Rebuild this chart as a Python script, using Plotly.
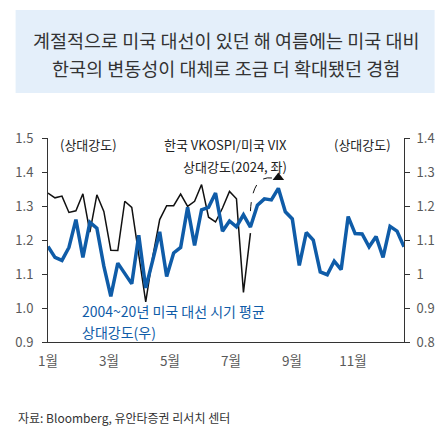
import plotly.graph_objects as go

# ---- data (weekly, week index 0..51) ----
kor_us_2024 = [1.338, 1.324, 1.329, 1.281, 1.286, 1.336, 1.223, 1.333, 1.284, 1.170,
               1.169, 1.314, 1.296, 1.157, 1.018, 1.150, 1.260, 1.301, 1.301, 1.335,
               1.299, 1.314, 1.363, 1.267, 1.253, 1.294, 1.343, 1.321, 1.046, 1.220]
election_avg = [1.081, 1.049, 1.040, 1.078, 1.160, 1.049, 1.152, 1.135, 1.023, 0.934,
                1.032, 1.003, 0.971, 1.114, 0.959, 1.040, 1.124, 0.993, 1.062, 1.078,
                1.196, 1.084, 1.189, 1.196, 1.238, 1.126, 1.156, 1.139, 1.174, 1.138,
                1.202, 1.221, 1.218, 1.252, 1.183, 1.162, 1.025, 1.122, 1.100, 1.006,
                0.998, 1.038, 1.013, 1.169, 1.119, 1.118, 1.080, 1.110, 1.049, 1.140,
                1.126, 1.080]
month_labels = ["1월", "3월", "5월", "7월", "9월", "11월"]
month_numbers = [1, 3, 5, 7, 9, 11]
left_ticks = [0.9, 1.0, 1.1, 1.2, 1.3, 1.4, 1.5]
left_ticktext = ["0.9", "1.0", "1.1", "1.2", "1.3", "1.4", "1.5"]
right_ticks = [0.8, 0.9, 1.0, 1.1, 1.2, 1.3, 1.4]
right_ticktext = ["0.8", "0.9", "1", "1.1", "1.2", "1.3", "1.4"]

weeks_per_month = 52 / 11.9
x_black = list(range(len(kor_us_2024)))
x_blue = list(range(len(election_avg)))
tickvals = [(m - 1) * weeks_per_month for m in month_numbers]

BLUE = "#0F5CA8"
GRAY = "#595959"
FONT = "Noto Sans CJK KR"

fig = go.Figure()
fig.add_trace(go.Scatter(x=x_black, y=kor_us_2024, mode="lines",
                         line=dict(color="#111111", width=1.5), yaxis="y",
                         showlegend=False))
fig.add_trace(go.Scatter(x=x_blue, y=election_avg, mode="lines",
                         line=dict(color=BLUE, width=3.5), yaxis="y2",
                         showlegend=False))

# curved dashed arrow from end of 2024 line to the summer peak of the average
peak_i = max(range(len(election_avg)), key=lambda i: election_avg[i])
x0, y0 = x_black[-1], kor_us_2024[-1] + 0.065
x1, y1 = peak_i, election_avg[peak_i] + 0.1 + 0.028
fig.add_shape(type="path",
              path=f"M {x0},{y0} Q {x0 + 0.3},{y1 + 0.02} {x1 - 0.4},{y1}",
              xref="x", yref="y", line=dict(color="#111111", width=1, dash="dash"))
fig.add_trace(go.Scatter(x=[x1], y=[y1 + 0.004], mode="markers",
                         marker=dict(symbol="triangle-up", size=10, color="#111111"),
                         yaxis="y", showlegend=False, hoverinfo="skip"))

fig.update_layout(
    width=447, height=427,
    margin=dict(l=48, r=38, t=138, b=85),
    paper_bgcolor="white", plot_bgcolor="white",
    font=dict(family=FONT, color=GRAY),
    xaxis=dict(range=[0, len(election_avg) - 1], tickvals=tickvals, ticktext=month_labels,
               showline=True, linecolor="#333333", linewidth=1, ticks="",
               showgrid=False, zeroline=False, tickfont=dict(size=13.5, color=GRAY),
               ticklabelstandoff=7),
    yaxis=dict(range=[0.9, 1.5], tickvals=left_ticks, ticktext=left_ticktext,
               showline=True, linecolor="#333333", linewidth=1, ticks="outside",
               ticklen=5, tickcolor="#333333", showgrid=False, zeroline=False,
               tickfont=dict(size=13, color=GRAY), ticklabelstandoff=6),
    yaxis2=dict(range=[0.8, 1.4], tickvals=right_ticks, ticktext=right_ticktext,
                overlaying="y", side="right",
                showline=True, linecolor="#333333", linewidth=1, ticks="outside",
                ticklen=5, tickcolor="#333333", showgrid=False, zeroline=False,
                tickfont=dict(size=13, color=GRAY), ticklabelstandoff=4),
)

# title box
fig.add_shape(type="rect", xref="paper", yref="paper",
              x0=-0.091, x1=1.086, y0=1.221, y1=1.627,
              fillcolor="#E4EFFA", line=dict(width=0), layer="below")

def ann(text, x, y, xanchor="left", size=13, color="#222222"):
    fig.add_annotation(text=text, x=x, y=y, xref="paper", yref="paper",
                       xanchor=xanchor, yanchor="middle", showarrow=False,
                       font=dict(size=size, color=color, family=FONT))

ann("계절적으로 미국 대선이 있던 해 여름에는 미국 대비", 0.5, 1.480, "center", 18.5, "#333333")
ann("한국의 변동성이 대체로 조금 더 확대됐던 경험", 0.5, 1.345, "center", 18.5, "#333333")
ann("(상대강도)", 0.028, 0.966)
ann("한국 VKOSPI/미국 VIX", 0.676, 0.966, "right")
ann("상대강도(2024, 좌)", 0.676, 0.858, "right")
ann("(상대강도)", 0.9695, 0.966, "right")
ann("2004~20년 미국 대선 시기 평균", 0.089, 0.152, "left", 14, BLUE)
ann("상대강도(우)", 0.089, 0.049, "left", 14, BLUE)
ann("자료: Bloomberg, 유안타증권 리서치 센터", -0.091, -0.368, "left", 12, "#333333")

fig.write_html("out.html")
